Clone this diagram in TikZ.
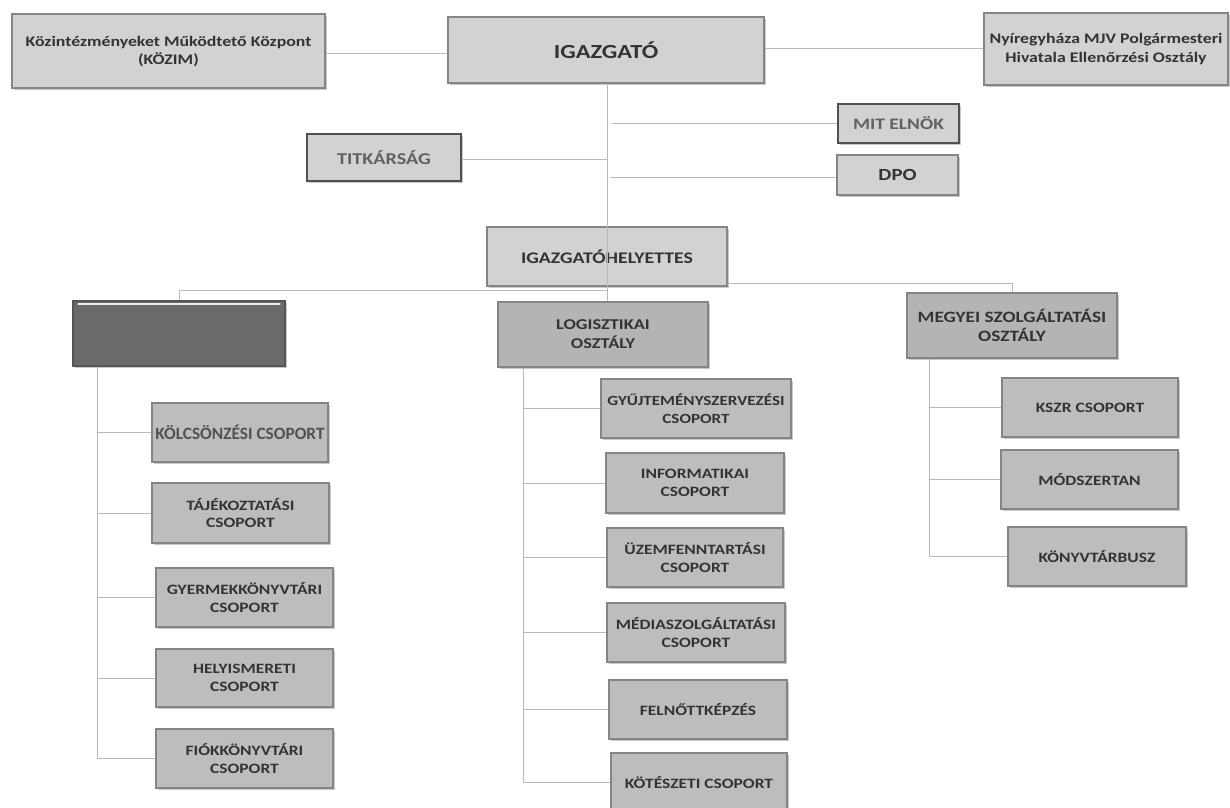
\documentclass[tikz,border=0pt]{standalone}
\usepackage{fontspec}
\setmainfont{Carlito}[FakeStretch=1.22]
\newfontfamily\plainfont{Carlito}
\usetikzlibrary{shadows}
\definecolor{boxtop}{HTML}{D2D2D2}
\definecolor{grpfill}{HTML}{BDBDBD}
\definecolor{deptfill}{HTML}{B4B4B4}
\definecolor{bordergray}{HTML}{858585}
\definecolor{linegray}{HTML}{B8B8B8}
\definecolor{txt}{HTML}{333333}
\definecolor{darkfill}{HTML}{6A6A6A}
\definecolor{roughborder}{HTML}{505050}
\newcommand\fs[2]{\fontsize{#1}{#2}\selectfont}
\begin{document}
\begin{tikzpicture}[x=1pt,y=-1pt,
  conn/.style={draw=linegray, line width=1pt},
  base/.style={draw=bordergray, line width=1.2pt, inner sep=0pt, align=center, text=txt,
    font=\bfseries\fs{14.3}{17.5},
    drop shadow={shadow xshift=1.5pt, shadow yshift=-1.5pt, opacity=.3, fill=black!70}},
  topbox/.style={base, fill=boxtop},
  grp/.style={base, fill=grpfill},
  dept/.style={base, fill=deptfill, font=\bfseries\fs{15}{19}},
  rough/.style={base, fill=boxtop, draw=roughborder, line width=2.8pt, text=black!62}]
\useasboundingbox[fill=white] (0,0) rectangle (1230,807);

% top level
\node[topbox, minimum width=313pt, minimum height=74pt, font=\bfseries\fs{14.6}{18}] (kozim) at (168.5,51)
  {Közintézményeket Működtető Központ\\(KÖZIM)};
\node[topbox, minimum width=316pt, minimum height=66pt, font=\bfseries\fs{20}{22}] (igaz) at (606,50) {IGAZGATÓ};
\node[topbox, minimum width=244pt, minimum height=72pt, font=\bfseries\fs{14.6}{18.5}] (nyir) at (1106,49)
  {Nyíregyháza MJV Polgármesteri\\Hivatala Ellenőrzési Osztály};

\node[rough, minimum width=154pt, minimum height=47pt, font=\bfseries\fs{16.5}{18}] (titk) at (384,157.5) {TITKÁRSÁG};
\node[rough, minimum width=121pt, minimum height=39pt, font=\bfseries\fs{16}{18}] (mit) at (898.5,123.5) {MIT ELNÖK};
\node[topbox, minimum width=121pt, minimum height=40pt, font=\bfseries\fs{17}{19}] (dpo) at (897.5,175) {DPO};

\node[topbox, minimum width=240pt, minimum height=59pt, font=\bfseries\fs{16.2}{19}] (hely) at (607,256.5) {IGAZGATÓHELYETTES};

% departments
\node[base, fill=darkfill, draw=darkfill!80!black, minimum width=212pt, minimum height=65pt] (dep1) at (179,333.5) {};
\draw[white!85!gray, line width=2pt, line cap=round] ([xshift=6pt,yshift=-4pt]dep1.north west) -- ([xshift=-6pt,yshift=-4pt]dep1.north east);
\node[dept, minimum width=210pt, minimum height=65pt] (logi) at (603,334.5) {LOGISZTIKAI\\OSZTÁLY};
\node[dept, minimum width=210pt, minimum height=65pt, font=\bfseries\fs{15.8}{19}] (megy) at (1012,325.5) {MEGYEI SZOLGÁLTATÁSI\\OSZTÁLY};

% left groups
\node[grp, minimum width=176pt, minimum height=59pt, font=\plainfont\bfseries\fs{17.3}{19}, text=black!68] (kolcs) at (240,432.5) {KÖLCSÖNZÉSI CSOPORT};
\node[grp, minimum width=177pt, minimum height=60pt] (tajek) at (240.5,513) {TÁJÉKOZTATÁSI\\CSOPORT};
\node[grp, minimum width=177pt, minimum height=59pt] (gyerm) at (244.5,597.5) {GYERMEKKÖNYVTÁRI\\CSOPORT};
\node[grp, minimum width=177pt, minimum height=58pt] (helyi) at (244.5,678) {HELYISMERETI\\CSOPORT};
\node[grp, minimum width=177pt, minimum height=59pt] (fiok) at (244.5,758.5) {FIÓKKÖNYVTÁRI\\CSOPORT};

% middle groups
\node[grp, minimum width=190pt, minimum height=59pt, font=\bfseries\fs{14}{17.5}] (gyujt) at (696,408.5) {GYŰJTEMÉNYSZERVEZÉSI\\CSOPORT};
\node[grp, minimum width=178pt, minimum height=60pt] (info) at (695,483) {INFORMATIKAI\\CSOPORT};
\node[grp, minimum width=176pt, minimum height=59pt] (uzem) at (695,557.5) {ÜZEMFENNTARTÁSI\\CSOPORT};
\node[grp, minimum width=178pt, minimum height=59pt] (media) at (696,632.5) {MÉDIASZOLGÁLTATÁSI\\CSOPORT};
\node[grp, minimum width=178pt, minimum height=59pt] (feln) at (698,709.5) {FELNŐTTKÉPZÉS};
\node[grp, minimum width=176pt, minimum height=59pt] (kot) at (699,782.5) {KÖTÉSZETI CSOPORT};

% right groups
\node[grp, minimum width=176pt, minimum height=59pt] (kszr) at (1090,407.5) {KSZR CSOPORT};
\node[grp, minimum width=177pt, minimum height=59pt] (mod) at (1089.5,479.5) {MÓDSZERTAN};
\node[grp, minimum width=178pt, minimum height=59pt] (busz) at (1097,556.5) {KÖNYVTÁRBUSZ};

% connectors top
\draw[conn] (kozim.east |- 0,53) -- (igaz.west |- 0,53);
\draw[conn] (igaz.east |- 0,48) -- (nyir.west |- 0,48);
\coordinate (trunk) at (607,0);
\draw[conn] (trunk |- igaz.south) -- (trunk |- logi.north);
\draw[conn] (titk.east |- 0,159) -- (trunk |- 0,159);
\draw[conn] (612,123) -- (mit.west |- 0,123);
\draw[conn] (610,177) -- (dpo.west |- 0,177);
\draw[conn] (trunk |- 0,290) -- (dep1.north |- 0,290) -- (dep1.north);
\draw[conn] (hely.east |- 0,283) -- (megy.north |- 0,283) -- (megy.north);

% left branch
\coordinate (lx) at (97,0);
\draw[conn] (lx |- dep1.south) -- (lx |- fiok.west) -- (fiok.west);
\foreach \n in {kolcs,tajek,gyerm,helyi}
  \draw[conn] (lx |- \n.west) -- (\n.west);

% middle branch
\coordinate (mx) at (523,0);
\draw[conn] (mx |- logi.south) -- (mx |- kot.west) -- (kot.west);
\foreach \n in {gyujt,info,uzem,media,feln}
  \draw[conn] (mx |- \n.west) -- (\n.west);

% right branch
\coordinate (rx) at (929,0);
\draw[conn] (rx |- megy.south) -- (rx |- busz.west) -- (busz.west);
\foreach \n in {kszr,mod}
  \draw[conn] (rx |- \n.west) -- (\n.west);
\end{tikzpicture}
\end{document}
